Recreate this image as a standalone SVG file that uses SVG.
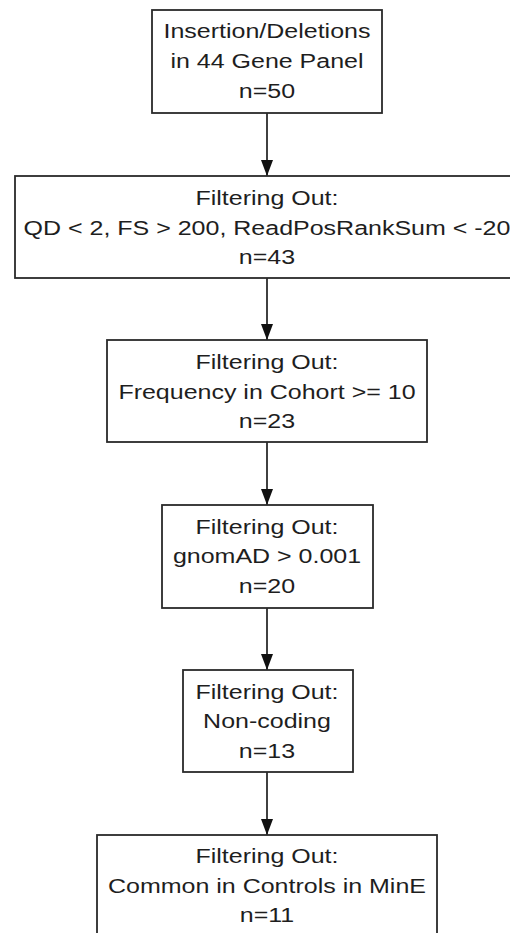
<svg xmlns="http://www.w3.org/2000/svg" width="510" height="933" viewBox="0 0 510 933">
<style>
.box{fill:#ffffff;stroke:#2a2a2a;stroke-width:1.8}
.lbl{font-family:"Liberation Sans",Arial,sans-serif;font-size:20px;fill:#1e1e1e;text-anchor:middle}
.edge{stroke:#111;stroke-width:1.6;fill:none;marker-end:url(#arr)}
</style>
<defs>
<marker id="arr" markerUnits="userSpaceOnUse" viewBox="0 0 16 12" markerWidth="16" markerHeight="12" refX="16" refY="6" orient="auto">
<path d="M0,0 L16,6 L0,12 z" fill="#111"/>
</marker>
</defs>
<rect width="510" height="933" fill="#ffffff"/>
<g id="connectors">
<line class="edge" x1="267" y1="113" x2="267" y2="176"/>
<line class="edge" x1="267" y1="278" x2="267" y2="340"/>
<line class="edge" x1="267" y1="442" x2="267" y2="505"/>
<line class="edge" x1="267" y1="608" x2="267" y2="670"/>
<line class="edge" x1="267" y1="772" x2="267" y2="835"/>
</g>
<g id="node1">
<rect class="box" x="152" y="10" width="230" height="103"/>
<g transform="matrix(1.25 0 0 1 -66.75 0)">
<text class="lbl" x="267" y="38">Insertion/Deletions</text>
<text class="lbl" x="267" y="68">in 44 Gene Panel</text>
<text class="lbl" x="267" y="98">n=50</text>
</g>
</g>
<g id="node2">
<rect class="box" x="15" y="176" width="504" height="102"/>
<g transform="matrix(1.25 0 0 1 -66.75 0)">
<text class="lbl" x="267" y="205">Filtering Out:</text>
<text class="lbl" x="267" y="235">QD &lt; 2, FS &gt; 200, ReadPosRankSum &lt; -20</text>
<text class="lbl" x="267" y="264">n=43</text>
</g>
</g>
<g id="node3">
<rect class="box" x="107" y="340" width="320" height="102"/>
<g transform="matrix(1.25 0 0 1 -66.75 0)">
<text class="lbl" x="267" y="369">Filtering Out:</text>
<text class="lbl" x="267" y="399">Frequency in Cohort &gt;= 10</text>
<text class="lbl" x="267" y="428">n=23</text>
</g>
</g>
<g id="node4">
<rect class="box" x="162" y="505" width="211" height="103"/>
<g transform="matrix(1.25 0 0 1 -66.75 0)">
<text class="lbl" x="267" y="534">Filtering Out:</text>
<text class="lbl" x="267" y="563">gnomAD &gt; 0.001</text>
<text class="lbl" x="267" y="593">n=20</text>
</g>
</g>
<g id="node5">
<rect class="box" x="183" y="670" width="170" height="102"/>
<g transform="matrix(1.25 0 0 1 -66.75 0)">
<text class="lbl" x="267" y="699">Filtering Out:</text>
<text class="lbl" x="267" y="728">Non-coding</text>
<text class="lbl" x="267" y="758">n=13</text>
</g>
</g>
<g id="node6">
<rect class="box" x="97" y="835" width="340" height="110"/>
<g transform="matrix(1.25 0 0 1 -66.75 0)">
<text class="lbl" x="267" y="863">Filtering Out:</text>
<text class="lbl" x="267" y="893">Common in Controls in MinE</text>
<text class="lbl" x="267" y="922">n=11</text>
</g>
</g>
</svg>
